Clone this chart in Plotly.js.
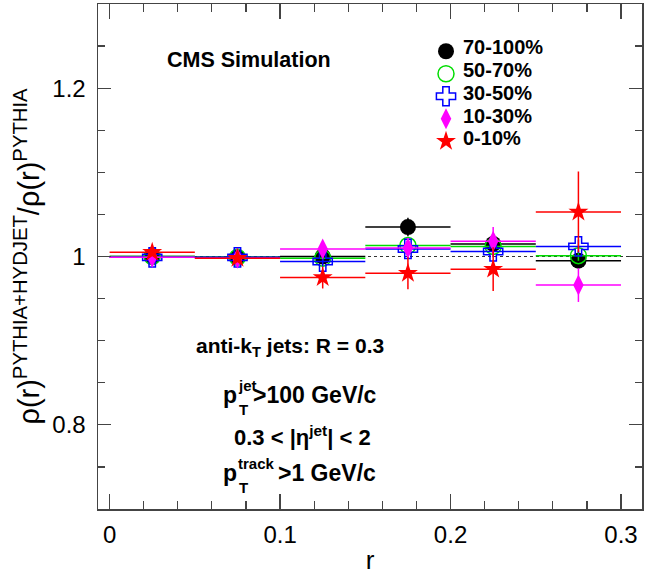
<!DOCTYPE html>
<html><head><meta charset="utf-8">
<script src="https://cdn.plot.ly/plotly-3.0.1.min.js"></script>
<style>html,body{margin:0;padding:0;background:#fff}</style>
</head><body><div id="chart" style="width:646px;height:575px"></div>
<script>
// ---- data ----
const rCenters   = [0.025, 0.075, 0.125, 0.175, 0.225, 0.275];
const rHalfWidth = [0.025, 0.025, 0.025, 0.025, 0.025, 0.025];
const seriesNames = ['70-100%', '50-70%', '30-50%', '10-30%', '0-10%'];
const ratio70to100 = [1.000, 0.999, 1.000, 1.035, 1.015, 0.995];
const err70to100   = [0.002, 0.002, 0.004, 0.011, 0.006, 0.006];
const ratio50to70  = [1.000, 0.999, 0.998, 1.013, 1.012, 1.001];
const err50to70    = [0.002, 0.002, 0.004, 0.006, 0.006, 0.006];
const ratio30to50  = [0.999, 0.999, 0.994, 1.009, 1.006, 1.012];
const err30to50    = [0.002, 0.002, 0.006, 0.006, 0.007, 0.008];
const ratio10to30  = [0.999, 0.998, 1.009, 1.010, 1.018, 0.966];
const err10to30    = [0.002, 0.002, 0.008, 0.012, 0.017, 0.020];
const ratio0to10   = [1.005, 0.998, 0.975, 0.980, 0.985, 1.053];
const err0to10     = [0.004, 0.003, 0.013, 0.019, 0.026, 0.048];
const xTickVals = [0, 0.1, 0.2, 0.3];
const yTickVals = [0.8, 1, 1.2];

// ---- layout geometry ----
const W = 646, H = 575, ML = 98, MR = 4, MT = 4, MB = 66;
const PW = W - ML - MR, PH = H - MT - MB;
const fx = px => (px - ML) / PW;
const fy = py => (H - MB - py) / PH;
const FONT = 'Liberation Sans, Arial, sans-serif';

const styles = [
  {y: ratio70to100, e: err70to100, color: '#000000', symbol: 'circle', size: 16, lw: 0},
  {y: ratio50to70,  e: err50to70,  color: '#00dd00', symbol: 'circle-open', size: 16, lw: 1.5},
  {y: ratio30to50,  e: err30to50,  color: '#0000ff', symbol: 'cross-open', size: 16, lw: 1.5},
  {y: ratio10to30,  e: err10to30,  color: '#ff00ff', symbol: 'diamond-tall', size: 15, lw: 0},
  {y: ratio0to10,   e: err0to10,   color: '#ff0000', symbol: 'star', size: 15, lw: 0}
];

const traces = styles.map((s, i) => ({
  type: 'scatter', mode: 'markers', name: ' ',
  x: rCenters, y: s.y,
  marker: {color: s.color, symbol: s.symbol, size: s.size, line: {color: s.color, width: s.lw}},
  error_x: {type: 'data', array: rHalfWidth, color: s.color, thickness: 1.5, width: 0},
  error_y: {type: 'data', array: s.e, color: s.color, thickness: 1.5, width: 0},
  cliponaxis: false
}));

const ann = [];
function txt(text, px, py, size, xanchor) {
  ann.push({xref: 'paper', yref: 'paper', x: fx(px), y: fy(py), text: text,
    showarrow: false, xanchor: xanchor || 'center', yanchor: 'middle',
    font: {family: FONT, size: size, color: '#000', weight: 'bold'}});
}
txt('<b>CMS Simulation</b>', 249, 60, 21.5);
const legY = [47, 70, 93, 116, 138];
seriesNames.forEach((n, i) => txt('<b>' + n + '</b>', 461, legY[i], 20, 'left'));
txt('<b>anti-k<sub>T</sub> jets: R = 0.3</b>', 290, 347, 21);
txt('<b>p</b>', 221, 395, 23, 'left');
txt('<b>jet</b>', 236, 385, 15, 'left');
txt('<b>T</b>', 237, 409, 15, 'left');
txt('<b>>100 GeV/c</b>', 251, 395, 23, 'left');
txt('<b>0.3 < |η<sup>jet</sup>| < 2</b>', 302, 436, 22);
txt('<b>p</b>', 221, 473, 23, 'left');
txt('<b>track</b>', 236, 463, 15, 'left');
txt('<b>T</b>', 237, 487, 15, 'left');
txt('<b>>1 GeV/c</b>', 276, 473, 23, 'left');

const axCommon = {
  showline: true, linecolor: '#444', linewidth: 1.5, mirror: 'allticks',
  ticks: 'inside', tickcolor: '#444', tickwidth: 1.2, showgrid: false, zeroline: false,
  tickfont: {family: FONT, size: 24, color: '#000'}
};

const layout = {
  width: W, height: H,
  margin: {l: ML, r: MR, t: MT, b: MB, pad: 0},
  paper_bgcolor: '#fff', plot_bgcolor: '#fff',
  showlegend: true,
  legend: {x: fx(426), y: fy(35), xanchor: 'left', yanchor: 'top',
           bgcolor: 'rgba(0,0,0,0)', borderwidth: 0, font: {family: FONT, size: 15},
           itemclick: false},
  xaxis: Object.assign({}, axCommon, {
    range: [-0.0068, 0.3123], tickvals: xTickVals, ticklen: 15,
    ticklabelstandoff: 4,
    minor: {dtick: 0.02, tick0: 0, ticks: 'inside', ticklen: 8, tickcolor: '#444', tickwidth: 1.2},
    title: {text: 'r', font: {family: FONT, size: 26, color: '#000'}, standoff: 6}
  }),
  yaxis: Object.assign({}, axCommon, {
    range: [0.7, 1.3], tickvals: yTickVals, ticklen: 13,
    ticklabelstandoff: 6,
    minor: {dtick: 0.05, tick0: 0, ticks: 'inside', ticklen: 7, tickcolor: '#444', tickwidth: 1.2},
    title: {text: 'ρ(r)<sup>PYTHIA+HYDJET</sup>/ρ(r)<sup>PYTHIA</sup>',
            font: {family: FONT, size: 29, color: '#000'}, standoff: 4}
  }),
  shapes: [{type: 'line', xref: 'paper', yref: 'y', x0: 0, x1: 1, y0: 1, y1: 1,
            line: {color: '#333', width: 1, dash: 'dot'}, layer: 'below'}],
  annotations: ann
};

Plotly.newPlot('chart', traces, layout, {staticPlot: true, displayModeBar: false});
</script>
</body></html>
